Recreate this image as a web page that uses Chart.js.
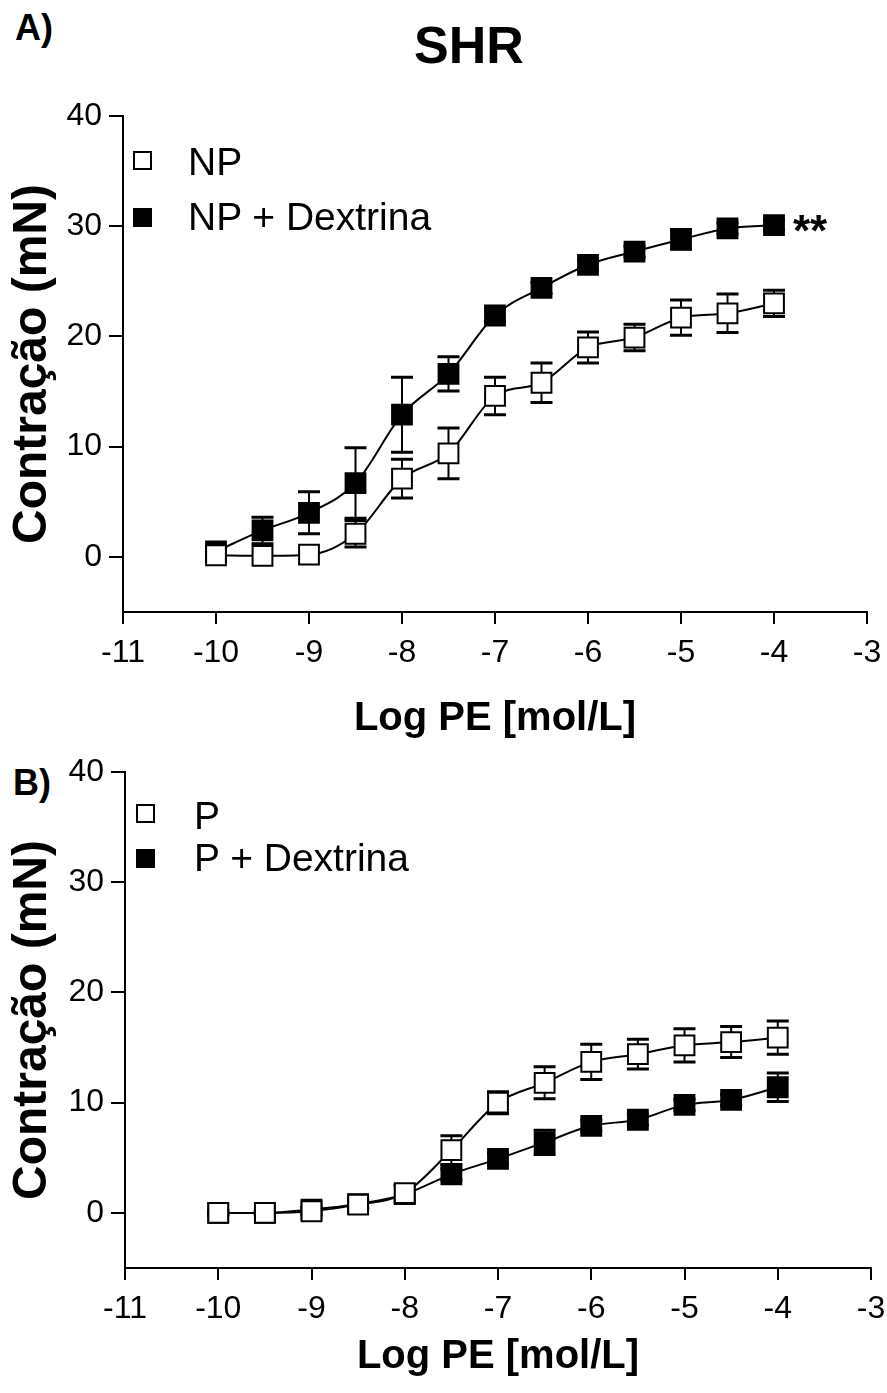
<!DOCTYPE html>
<html>
<head>
<meta charset="utf-8">
<script src="https://cdn.jsdelivr.net/npm/chart.js@4.4.1/dist/chart.umd.min.js"></script>
<style>
  html, body { margin: 0; padding: 0; background: #fff; }
  #wrap { position: relative; width: 887px; height: 1393px; overflow: hidden; font-family: Arial, "Liberation Sans", sans-serif; color: #000; }
  canvas { position: absolute; left: 0; }
  .lbl { position: absolute; line-height: 1; white-space: nowrap; }
  .b { font-weight: bold; }
  .mk { position: absolute; width: 15px; height: 15px; border: 2px solid #000; background: #fff; }
  .mk.f { background: #000; }
</style>
</head>
<body>
<div id="wrap">
  <div class="lbl b" style="left:15px; top:10px; font-size:36px;">A)</div>
  <div class="lbl b" style="left:414px; top:19px; font-size:52px;">SHR</div>
  <div class="lbl b" style="left:13px; top:765px; font-size:36px;">B)</div>

  <canvas id="cA" width="887" height="745" style="top:0;width:887px;height:745px;"></canvas>
  <canvas id="cB" width="887" height="648" style="top:745px;width:887px;height:648px;"></canvas>

  <div class="mk" style="left:133px; top:151px;"></div>
  <div class="lbl" style="left:188px; top:142px; font-size:39px;">NP</div>
  <div class="mk f" style="left:133px; top:208px;"></div>
  <div class="lbl" style="left:188px; top:197px; font-size:39px;">NP + Dextrina</div>
  <div class="lbl b" style="left:793px; top:209px; font-size:44px;">**</div>

  <div class="mk" style="left:136px; top:804px;"></div>
  <div class="lbl" style="left:194px; top:796px; font-size:39px;">P</div>
  <div class="mk f" style="left:136px; top:849px;"></div>
  <div class="lbl" style="left:194px; top:838px; font-size:39px;">P + Dextrina</div>
</div>
<script>
// ---- data ----
const logPE = [-10, -9.5, -9, -8.5, -8, -7.5, -7, -6.5, -6, -5.5, -5, -4.5, -4];

const np      = [0.15, 0.1, 0.2, 2.1, 7.1, 9.4, 14.6, 15.8, 19.0, 19.9, 21.7, 22.1, 23.0];
const npSem   = [0, 0, 0, 1.2, 1.75, 2.3, 1.7, 1.8, 1.4, 1.2, 1.6, 1.75, 1.2];
const npDex   = [0.5, 2.4, 4.0, 6.7, 12.9, 16.6, 21.9, 24.4, 26.5, 27.7, 28.8, 29.8, 30.1];
const npDexSem= [0.3, 1.2, 1.9, 3.2, 3.4, 1.55, 0.6, 0.5, 0.5, 0.5, 0.9, 0.5, 0.4];

const p       = [0, 0, 0.15, 0.75, 1.8, 5.7, 10.0, 11.8, 13.7, 14.4, 15.2, 15.5, 15.9];
const pSem    = [0.2, 0.2, 0.3, 0.4, 0.7, 1.3, 1.0, 1.45, 1.6, 1.35, 1.5, 1.4, 1.5];
const pDex    = [0, 0, 0.3, 0.8, 1.7, 3.5, 4.9, 6.4, 7.9, 8.45, 9.8, 10.25, 11.4];
const pDexSem = [0.1, 0.1, 0.2, 0.3, 0.8, 0.5, 0.5, 1.1, 0.5, 0.5, 0.5, 0.5, 1.3];

const xTicks = [-11, -10, -9, -8, -7, -6, -5, -4, -3];
const yTicks = [0, 10, 20, 30, 40];
const xTitle = 'Log PE [mol/L]';
const yTitle = 'Contração (mN)';

// ---- helpers ----
const pts = (ys) => logPE.map((x, i) => ({ x: x, y: ys[i] }));

const errorBars = {
  id: 'errorBars',
  beforeDatasetsDraw(chart) {
    const ctx = chart.ctx, xs = chart.scales.x, ys = chart.scales.y;
    ctx.save();
    ctx.strokeStyle = '#000';
    chart.data.datasets.forEach(ds => {
      const sem = ds.sem;
      if (!sem) return;
      ds.data.forEach((pt, j) => {
        const e = sem[j];
        if (!e) return;
        const x = xs.getPixelForValue(pt.x);
        const yt = ys.getPixelForValue(pt.y + e);
        const yb = ys.getPixelForValue(pt.y - e);
        ctx.lineWidth = 2;
        ctx.beginPath(); ctx.moveTo(x, yt); ctx.lineTo(x, yb); ctx.stroke();
        ctx.lineWidth = 3;
        ctx.beginPath();
        ctx.moveTo(x - 11, yt); ctx.lineTo(x + 11, yt);
        ctx.moveTo(x - 11, yb); ctx.lineTo(x + 11, yb);
        ctx.stroke();
      });
    });
    ctx.restore();
  }
};

function ds(label, ys, sem, filled) {
  return {
    label: label,
    data: pts(ys),
    sem: sem,
    borderColor: '#000',
    borderWidth: 2,
    cubicInterpolationMode: 'monotone',
    pointStyle: 'rect',
    pointRadius: 14,
    pointHoverRadius: 14,
    pointBorderWidth: 2,
    pointBorderColor: '#000',
    pointBackgroundColor: filled ? '#000' : '#fff',
    fill: false
  };
}

function makeChart(id, datasets, L) {
  return new Chart(document.getElementById(id), {
    type: 'line',
    data: { datasets: datasets },
    plugins: [errorBars],
    options: {
      responsive: false,
      animation: false,
      events: [],
      layout: { padding: { top: L.top, right: L.right, left: 0, bottom: 0 } },
      plugins: { legend: { display: false }, tooltip: { enabled: false } },
      scales: {
        x: {
          type: 'linear', min: -11, max: -3,
          afterBuildTicks: s => { s.ticks = xTicks.map(v => ({ value: v })); },
          afterFit: s => { s.height = L.xh; s.paddingLeft = 0; s.paddingRight = 0; },
          border: { display: true, color: '#000', width: 2 },
          grid: { drawOnChartArea: false, drawTicks: true, tickLength: 12, color: '#000', lineWidth: 2 },
          ticks: { color: '#000', font: { family: 'Arial', size: 32 }, padding: 10, maxRotation: 0, autoSkip: false },
          title: { display: true, text: xTitle, color: '#000', font: { family: 'Arial', size: 40, weight: 'bold' }, padding: { top: 0, bottom: L.xtb } }
        },
        y: {
          type: 'linear', min: -5, max: 40,
          afterBuildTicks: s => { s.ticks = yTicks.map(v => ({ value: v })); },
          afterFit: s => { s.width = L.yw; s.paddingTop = 0; s.paddingBottom = 0; },
          border: { display: true, color: '#000', width: 2 },
          grid: { drawOnChartArea: false, drawTicks: true, tickLength: 14, color: '#000', lineWidth: 2 },
          ticks: { color: '#000', font: { family: 'Arial', size: 32 }, padding: 7 },
          title: { display: true, text: yTitle, color: '#000', font: { family: 'Arial', size: 48, weight: 'bold' }, padding: { top: 4, bottom: 0 } }
        }
      }
    }
  });
}

makeChart('cA', [
  ds('NP', np, npSem, false),
  ds('NP + Dextrina', npDex, npDexSem, true)
], { top: 116, right: 20, xh: 133, yw: 123, xtb: 2 });

makeChart('cB', [
  ds('P', p, pSem, false),
  ds('P + Dextrina', pDex, pDexSem, true)
], { top: 27, right: 15, xh: 125, yw: 125, xtb: 12 });
</script>
</body>
</html>
